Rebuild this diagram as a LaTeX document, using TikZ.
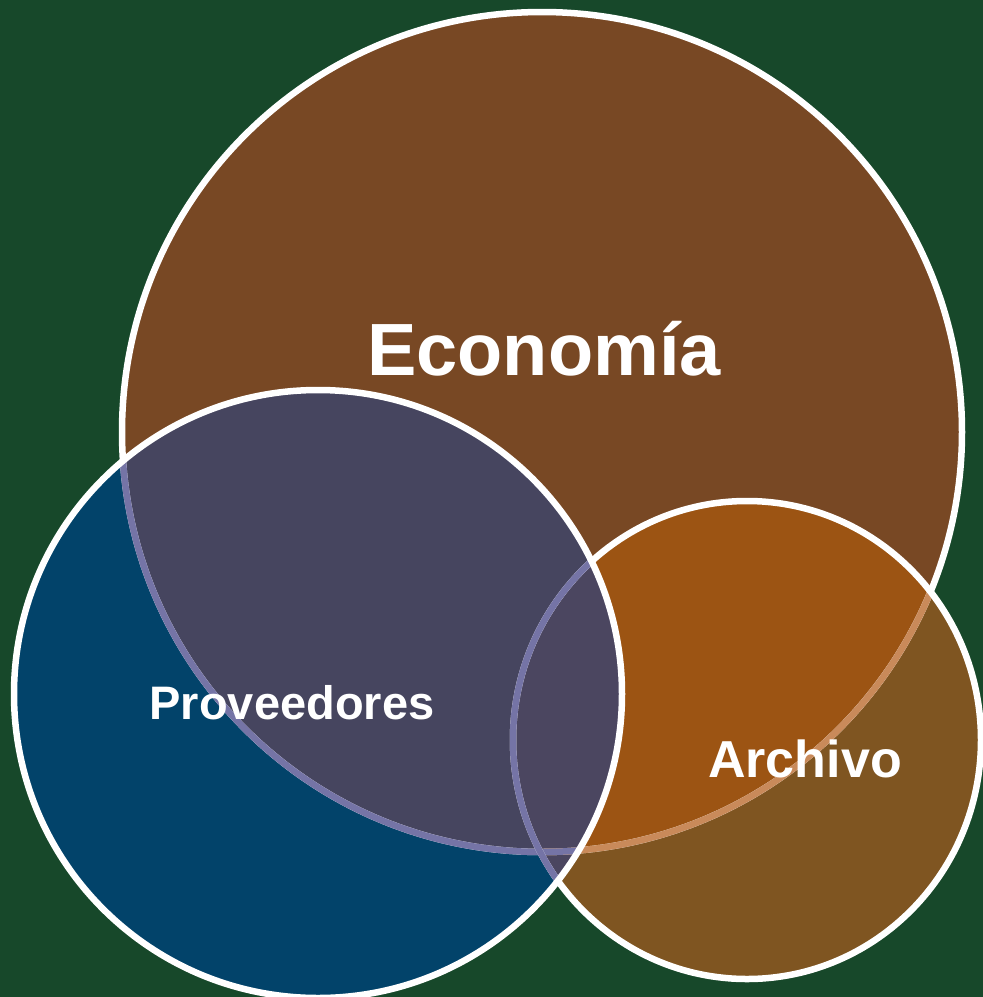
\documentclass[tikz,border=0pt]{standalone}
\usepackage{fontspec}
\setmainfont{Liberation Sans}

\definecolor{chalk}{HTML}{17482A}
\definecolor{ecobrown}{HTML}{784824}
\definecolor{archbrown}{HTML}{7F5521}
\definecolor{archorange}{HTML}{9C5413}
\definecolor{provblue}{HTML}{02436A}
\definecolor{provpurple}{HTML}{46455F}
\definecolor{provmix}{HTML}{4B4660}
\definecolor{lavender}{HTML}{7574A6}
\definecolor{tanline}{HTML}{C98A5A}

\tikzset{
  ecoshape/.style={insert path={(eco) circle[radius=420]}},
  provshape/.style={insert path={(prov) circle[radius=304]}},
  archshape/.style={insert path={(arch) ellipse[x radius=234, y radius=239]}},
  rim/.style={line width=6.5pt},
  title/.style={text=white, font=\bfseries, anchor=base, inner sep=0pt}
}

\begin{document}
\begin{tikzpicture}[x=1pt, y=-1pt]
                \clip (0,0) rectangle (983,997);
                \fill[chalk] (0,0) rectangle (983,997);
                \coordinate (eco) at (542,432);
                \coordinate (prov) at (318,694);
                \coordinate (arch) at (747,740);

                \fill[ecobrown, ecoshape];
                \fill[archbrown, archshape];
                \begin{scope}
                    \clip[ecoshape];
                    \fill[archorange, archshape];
                \end{scope}
                \fill[provblue, provshape];
                \begin{scope}
                    \clip[provshape];
                    \fill[provpurple, ecoshape];
                    \fill[provmix, archshape];
                \end{scope}

                \draw[rim, white, ecoshape];
                \begin{scope}
                    \clip[archshape];
                    \draw[rim, tanline, ecoshape];
                \end{scope}
                \begin{scope}
                    \clip[provshape];
                    \draw[rim, lavender, ecoshape];
                \end{scope}
                \draw[rim, white, archshape];
                \begin{scope}
                    \clip[provshape];
                    \draw[rim, lavender, archshape];
                \end{scope}
                \draw[rim, white, provshape];

                \node[title, font=\bfseries\fontsize{74}{80}\selectfont] (economia) at (544,375) {Economía};
                \node[title, font=\bfseries\fontsize{47}{52}\selectfont] (proveedores) at (292,719) {Proveedores};
                \node[title, font=\bfseries\fontsize{52}{56}\selectfont] (archivo) at (805,777) {Archivo};
\end{tikzpicture}
\end{document}
